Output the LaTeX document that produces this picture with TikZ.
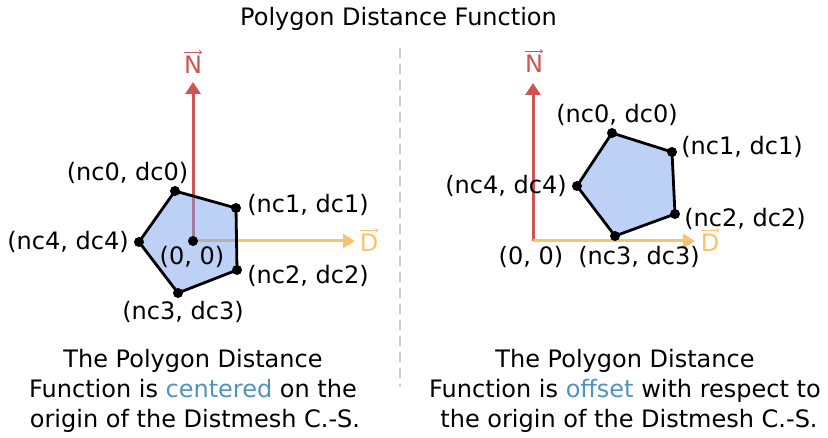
\documentclass[tikz,border=0pt]{standalone}
\usepackage{fontspec}
\setmainfont{DejaVu Sans}
\usetikzlibrary{arrows.meta}
\definecolor{axisred}{RGB}{209,84,84}
\definecolor{axisorange}{RGB}{246,196,110}
\definecolor{polyblue}{RGB}{124,161,237}
\definecolor{hiblue}{RGB}{78,146,196}
\definecolor{sepgray}{RGB}{205,205,205}
\begin{document}
\begin{tikzpicture}[x=1pt,y=-1pt,
  font=\fontsize{24}{30}\selectfont,
  lbl/.style={inner sep=0pt},
  caption/.style={anchor=base, inner sep=0pt},
  axisN/.style={draw=axisred, line width=3pt, -{Triangle[length=12pt,width=15pt]}},
  axisD/.style={draw=axisorange, line width=3pt, -{Triangle[length=12pt,width=14pt]}},
  overarr/.style={line width=0.7pt, -{Straight Barb[length=2.5pt,width=4pt]}},
  poly/.style={draw=black, line width=2.8pt, line join=round, fill=polyblue, fill opacity=0.5},
  vdot/.style={circle, fill=black, inner sep=0pt, minimum size=10pt},
  sep/.style={draw=sepgray, line width=2.5pt, dash pattern=on 10pt off 6pt}]
\useasboundingbox (0,0) rectangle (828,438);

% title and separator
\node[caption] (title) at (398.5,26) {Polygon Distance Function};
\coordinate (septop) at (400,48);
\coordinate (sepbot) at (400,387);
\draw[sep] (septop) -- (sepbot);

% ---------- left panel ----------
\coordinate (LO) at (193,241);
\coordinate (LNtip) at (193,82);
\coordinate (LDtip) at (355,241);
\draw[axisN] (LO) -- (LNtip);
\draw[axisD] (LO) -- (LDtip);
\node[caption, text=axisred] (LN) at (193,74) {N};
\draw[overarr, axisred] ([yshift=4pt]LN.north west) -- ([yshift=4pt]LN.north east);
\node[caption, text=axisorange] (LD) at (369,252) {D};
\draw[overarr, axisorange] ([yshift=4pt]LD.north west) -- ([yshift=4pt]LD.north east);

\coordinate (L0) at (175,191);
\coordinate (L1) at (236,208);
\coordinate (L2) at (237,270);
\coordinate (L3) at (178,293);
\coordinate (L4) at (139,242);
\draw[poly] (L0) -- (L1) -- (L2) -- (L3) -- (L4) -- cycle;
\foreach \v in {0,...,4} \node[vdot] (Ld\v) at (L\v) {};
\node[vdot] (LOd) at (LO) {};

\node[lbl] (Ll0) at (127.5,173) {(nc0, dc0)};
\node[lbl] (Ll1) at (308,205) {(nc1, dc1)};
\node[lbl] (Ll4) at (68,242) {(nc4, dc4)};
\node[lbl] (LlO) at (192,257) {(0, 0)};
\node[lbl] (Ll2) at (308,276) {(nc2, dc2)};
\node[lbl] (Ll3) at (183,312) {(nc3, dc3)};

\node[caption] (Lc1) at (193,368) {The Polygon Distance};
\node[caption] (Lc2) at (193,398) {Function is \textcolor{hiblue}{centered} on the};
\node[caption] (Lc3) at (195,428) {origin of the Distmesh C.-S.};

% ---------- right panel ----------
\coordinate (RO) at (533,241);
\coordinate (RNtip) at (533,83);
\coordinate (RDtip) at (695,241);
\draw[axisN] (RO) -- (RNtip);
\draw[axisD] (RO) -- (RDtip);
\node[caption, text=axisred] (RN) at (534,73) {N};
\draw[overarr, axisred] ([yshift=4pt]RN.north west) -- ([yshift=4pt]RN.north east);
\node[caption, text=axisorange] (RD) at (710,252) {D};
\draw[overarr, axisorange] ([yshift=4pt]RD.north west) -- ([yshift=4pt]RD.north east);

\coordinate (R0) at (612,133);
\coordinate (R1) at (672,152);
\coordinate (R2) at (675,214);
\coordinate (R3) at (615,236);
\coordinate (R4) at (577,186);
\draw[poly] (R0) -- (R1) -- (R2) -- (R3) -- (R4) -- cycle;
\foreach \v in {0,...,4} \node[vdot] (Rd\v) at (R\v) {};

\node[lbl] (Rl0) at (617,115) {(nc0, dc0)};
\node[lbl] (Rl1) at (742,147) {(nc1, dc1)};
\node[lbl] (Rl4) at (506,186) {(nc4, dc4)};
\node[lbl] (Rl2) at (745,219) {(nc2, dc2)};
\node[lbl] (RlO) at (531,257) {(0, 0)};
\node[lbl] (Rl3) at (639,257) {(nc3, dc3)};

\node[caption] (Rc1) at (625,368) {The Polygon Distance};
\node[caption] (Rc2) at (625,398) {Function is \textcolor{hiblue}{offset} with respect to};
\node[caption] (Rc3) at (629,428) {the origin of the Distmesh C.-S.};
\end{tikzpicture}
\end{document}
